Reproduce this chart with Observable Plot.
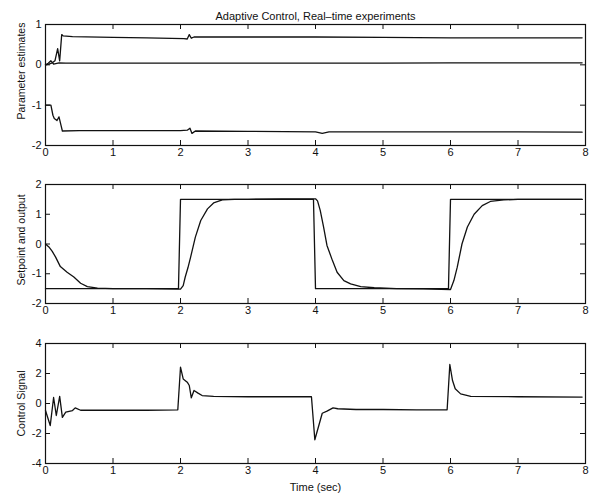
<!DOCTYPE html>
<html><head><meta charset="utf-8">
<script src="https://cdn.jsdelivr.net/npm/d3@7"></script>
<script src="https://cdn.jsdelivr.net/npm/@observablehq/plot@0.6"></script>
<style>body{margin:0;background:#fff} svg{display:block}</style>
</head><body><div id="chart"></div>
<script>
const titleText = "Adaptive Control, Real\u2013time experiments";
const xLabel = "Time (sec)";
const xTicks = [0, 1, 2, 3, 4, 5, 6, 7, 8];

// Panel 1: parameter estimates
const paramTicks = [-2, -1, 0, 1];
const theta1Time = [0, 0.05, 0.1, 0.14, 0.18, 0.21, 0.24, 0.26, 0.4, 1.0, 1.5, 2.05, 2.1, 2.13, 2.16, 2.2, 2.3, 3.0, 4.0, 5.0, 6.0, 7.0, 7.95];
const theta1Value = [0, 0.02, 0.05, 0.1, 0.4, 0.1, 0.75, 0.72, 0.7, 0.68, 0.67, 0.65, 0.64, 0.75, 0.66, 0.69, 0.69, 0.69, 0.69, 0.68, 0.67, 0.67, 0.67];
const theta2Time = [0, 0.04, 0.08, 0.12, 0.2, 0.3, 1, 2, 3, 4, 5, 6, 7, 7.95];
const theta2Value = [0, 0.04, 0.1, 0.02, 0.05, 0.04, 0.04, 0.04, 0.04, 0.04, 0.04, 0.05, 0.05, 0.05];
const theta3Time = [0, 0.08, 0.11, 0.13, 0.17, 0.2, 0.23, 0.25, 0.5, 1, 2, 2.1, 2.14, 2.17, 2.22, 3, 4, 4.1, 4.15, 4.2, 5, 6, 7, 7.95];
const theta3Value = [-1.0, -1.0, -1.25, -1.33, -1.38, -1.29, -1.5, -1.64, -1.63, -1.63, -1.63, -1.62, -1.57, -1.7, -1.64, -1.65, -1.66, -1.7, -1.68, -1.66, -1.66, -1.66, -1.66, -1.67];

// Panel 2: setpoint and output
const outTicks = [-2, -1, 0, 1, 2];
const setpointTime = [0, 1.97, 2.0, 3.97, 4.0, 5.97, 6.0, 7.95];
const setpointValue = [-1.5, -1.5, 1.5, 1.5, -1.5, -1.5, 1.5, 1.5];
const outputTime = [0, 0.05, 0.1, 0.15, 0.22, 0.32, 0.42, 0.52, 0.62, 0.77, 1.0, 1.5, 2.0, 2.04, 2.07, 2.11, 2.15, 2.22, 2.30, 2.40, 2.49, 2.62, 2.8, 3.0, 3.5, 4.0, 4.03, 4.07, 4.12, 4.17, 4.25, 4.32, 4.42, 4.52, 4.67, 4.87, 5.2, 5.6, 6.0, 6.05, 6.10, 6.17, 6.25, 6.35, 6.47, 6.59, 6.79, 7.0, 7.5, 7.95];
const outputValue = [0, -0.1, -0.25, -0.44, -0.76, -0.95, -1.11, -1.32, -1.43, -1.48, -1.5, -1.5, -1.52, -1.4, -1.11, -0.8, -0.44, 0.23, 0.79, 1.18, 1.38, 1.48, 1.5, 1.5, 1.52, 1.52, 1.45, 1.13, 0.57, -0.05, -0.55, -0.95, -1.23, -1.34, -1.43, -1.47, -1.5, -1.51, -1.53, -1.23, -0.78, 0.0, 0.57, 1.0, 1.29, 1.43, 1.48, 1.5, 1.5, 1.5];

// Panel 3: control signal
const ctrlTicks = [-4, -2, 0, 2, 4];
const controlTime = [0, 0.07, 0.12, 0.16, 0.21, 0.25, 0.30, 0.40, 0.44, 0.52, 1.0, 1.5, 1.96, 2.0, 2.04, 2.10, 2.13, 2.16, 2.20, 2.26, 2.32, 2.49, 3.0, 3.5, 3.94, 3.99, 4.10, 4.17, 4.26, 4.33, 4.6, 5.0, 5.5, 5.95, 5.99, 6.03, 6.07, 6.15, 6.30, 7.0, 7.95];
const controlValue = [-0.47, -1.47, 0.4, -0.8, 0.47, -0.93, -0.58, -0.47, -0.29, -0.45, -0.45, -0.45, -0.42, 2.42, 1.64, 1.42, 1.2, 0.38, 0.87, 0.69, 0.53, 0.47, 0.45, 0.45, 0.45, -2.42, -0.65, -0.51, -0.29, -0.35, -0.4, -0.4, -0.42, -0.42, 2.6, 1.53, 0.98, 0.64, 0.47, 0.45, 0.43];

const zip = (ts, vs) => ts.map((t, i) => ({t, v: vs[i]}));

const W = 589, ML = 45, MR = 4;
const font = "'Liberation Sans', Arial, Helvetica, sans-serif";

function panel({height, mt, mb, domain, ticks, label, labelDy = 0, series, extra = []}) {
  const innerH = height - mt - mb;
  const innerW = W - ML - MR;
  const tk = 5;
  return Plot.plot({
    width: W, height,
    marginLeft: ML, marginRight: MR, marginTop: mt, marginBottom: mb,
    style: {fontFamily: font, fontSize: "11px", color: "#111", background: "#fff"},
    x: {domain: [0, 8]},
    y: {domain},
    marks: [
      ...series.map(s => Plot.line(s, {x: "t", y: "v", stroke: "#111", strokeWidth: 1.3})),
      Plot.frame({stroke: "#111", strokeWidth: 1.2}),
      Plot.tickX(xTicks, {x: d => d, insetTop: innerH - tk, stroke: "#111"}),
      Plot.tickX(xTicks, {x: d => d, insetBottom: innerH - tk, stroke: "#111"}),
      Plot.tickY(ticks, {y: d => d, insetRight: innerW - tk, stroke: "#111"}),
      Plot.tickY(ticks, {y: d => d, insetLeft: innerW - tk, stroke: "#111"}),
      Plot.axisX(xTicks, {tickSize: 0, tickPadding: 3, tickFormat: d => String(d), label: null}),
      Plot.axisY(ticks, {tickSize: 0, tickPadding: 4, tickFormat: d => String(d), label: null}),
      Plot.text([label], {text: d => d, frameAnchor: "left", textAnchor: "middle", rotate: -90, dx: -24, dy: labelDy, fontSize: 10.5}),
      ...extra
    ]
  });
}

const chart = document.getElementById("chart");
chart.append(panel({
  height: 160, mt: 24, mb: 15, domain: [-2, 1], ticks: paramTicks, label: "Parameter estimates", labelDy: -14,
  series: [zip(theta1Time, theta1Value), zip(theta2Time, theta2Value), zip(theta3Time, theta3Value)],
  extra: [Plot.text([titleText], {text: d => d, frameAnchor: "top", dy: -12, fontSize: 11})]
}));
chart.append(panel({
  height: 160, mt: 24, mb: 17, domain: [-2, 2], ticks: outTicks, label: "Setpoint and output", labelDy: -4,
  series: [zip(setpointTime, setpointValue), zip(outputTime, outputValue)]
}));
chart.append(panel({
  height: 180, mt: 23, mb: 37, domain: [-4, 4], ticks: ctrlTicks, label: "Control Signal",
  series: [zip(controlTime, controlValue)],
  extra: [Plot.text([xLabel], {text: d => d, frameAnchor: "bottom", dy: 27, fontSize: 11})]
}));
</script></body></html>
